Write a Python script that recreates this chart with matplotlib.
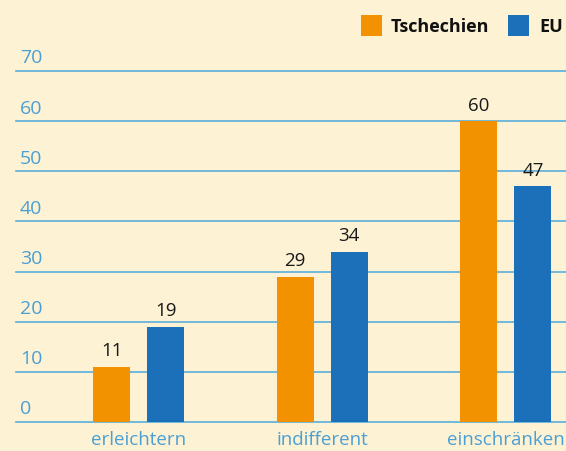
import matplotlib.pyplot as plt
from matplotlib.patches import Rectangle
import matplotlib.transforms as mtransforms
import numpy as np

plt.rcParams['font.family'] = ['Open Sans', 'DejaVu Sans']

# data
categories = ['erleichtern', 'indifferent', 'einschränken']
cz_values = [11, 29, 60]
eu_values = [19, 34, 47]
series_names = ['Tschechien', 'EU']
yticks = [0, 10, 20, 30, 40, 50, 60, 70]

BG = '#FDF2D3'
ORANGE = '#F39200'
BLUE = '#1B70B9'
GRID = '#5AAEDC'
TICK = '#4A9FD5'

W, H = 566, 452
fig = plt.figure(figsize=(W / 100, H / 100), dpi=100, facecolor=BG)
ax = fig.add_axes([16 / W, (H - 423) / H, 1 - 16 / W, (423 - 72) / H])
ax.set_facecolor(BG)

x = np.arange(len(categories))
width = 0.2016
off = 0.147
b1 = ax.bar(x - off, cz_values, width, color=ORANGE, zorder=3)
b2 = ax.bar(x + off, eu_values, width, color=BLUE, zorder=3)

for bars, vals in ((b1, cz_values), (b2, eu_values)):
    for rect, v in zip(bars, vals):
        ax.text(rect.get_x() + rect.get_width() / 2, v + 1.5, str(v),
                ha='center', va='bottom', fontsize=13.5, color='#1a1a1a', zorder=4)

ax.set_xlim(-0.6676, 2.327)
ax.set_ylim(0, 70)

for s in ax.spines.values():
    s.set_visible(False)
for t in yticks:
    ax.axhline(t, color=GRID, linewidth=1.2, zorder=1, clip_on=False)

ax.set_yticks([])
trans = mtransforms.blended_transform_factory(ax.transAxes, ax.transData)
for t in yticks:
    ax.text(4 / 550, t + 0.9, str(t), transform=trans, ha='left', va='bottom',
            fontsize=14, color=TICK, clip_on=False)

ax.set_xticks(x)
ax.set_xticklabels(categories, fontsize=13.5, color=TICK)
ax.tick_params(axis='x', length=0, pad=6)

# legend
for px, col, name, tx in ((361, ORANGE, series_names[0], 391), (508, BLUE, series_names[1], 539)):
    fig.patches.append(Rectangle((px / W, (H - 37) / H), 21 / W, 21 / H,
                                 transform=fig.transFigure, facecolor=col, edgecolor='none'))
    fig.text(tx / W, (H - 26.5) / H, name, ha='left', va='center',
             fontsize=13, fontweight='bold', color='#111111')

fig.savefig('out.png', dpi=100, facecolor=BG)
